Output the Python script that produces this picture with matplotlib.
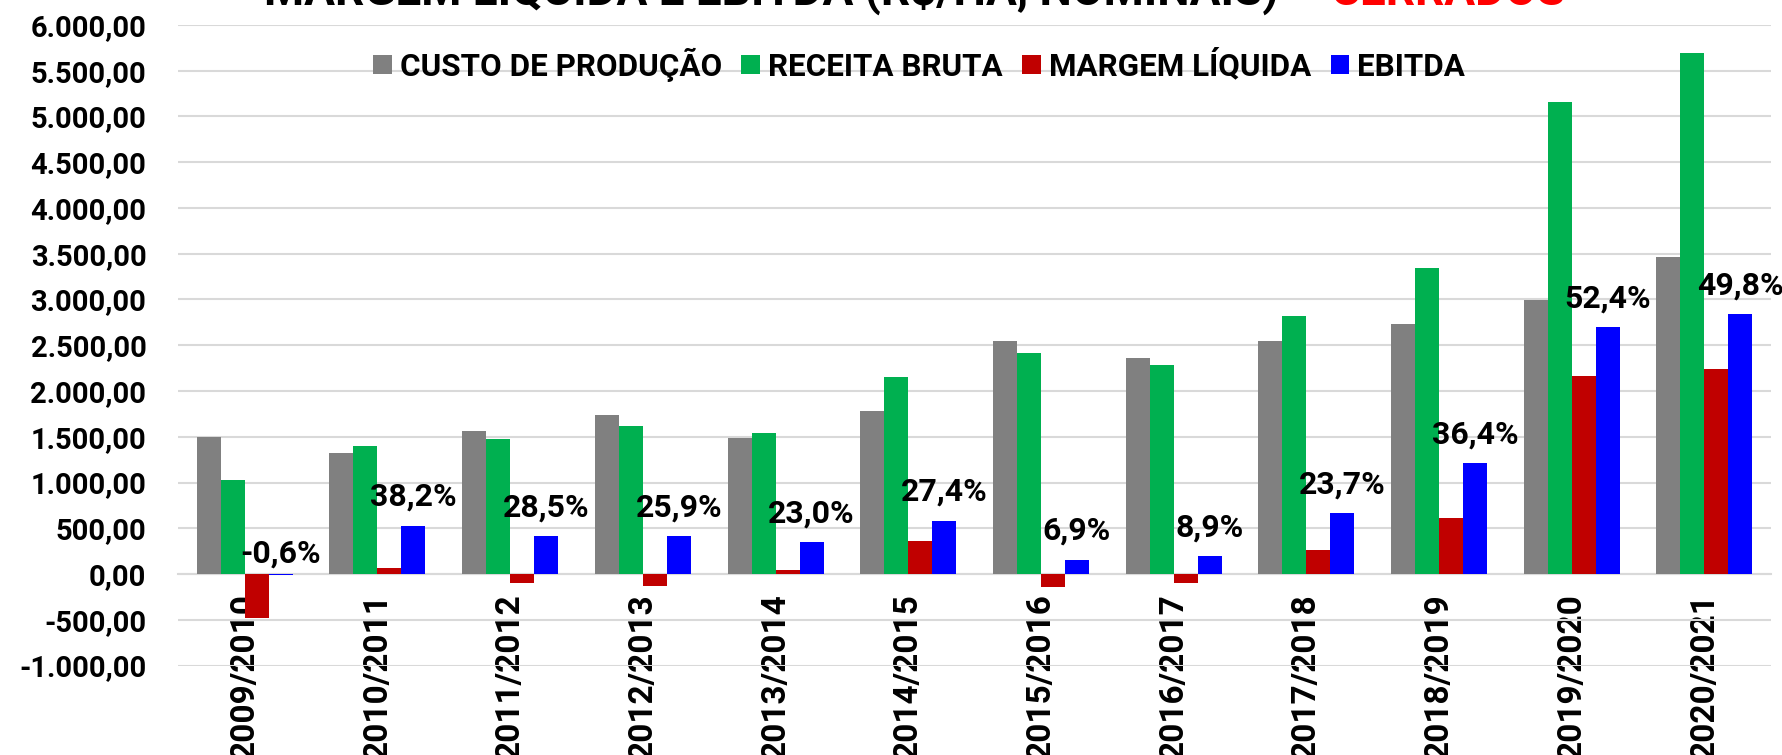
import matplotlib
matplotlib.use("Agg")
import matplotlib.pyplot as plt
from matplotlib.patches import Patch
from matplotlib.ticker import FuncFormatter, MultipleLocator
import numpy as np

plt.rcParams['font.family'] = ['Roboto', 'DejaVu Sans']
plt.rcParams['font.weight'] = 'bold'

safras = ["2009/2010", "2010/2011", "2011/2012", "2012/2013", "2013/2014", "2014/2015",
          "2015/2016", "2016/2017", "2017/2018", "2018/2019", "2019/2020", "2020/2021"]
custo = [1500, 1317, 1562, 1741, 1489, 1780, 2550, 2364, 2550, 2727, 2992, 3464]
receita = [1022, 1394, 1471, 1613, 1544, 2153, 2419, 2280, 2823, 3339, 5159, 5699]
margem = [-485, 66, -102, -135, 44, 364, -140, -98, 262, 608, 2167, 2235]
ebitda = [-6, 529, 412, 412, 347, 583, 157, 193, 665, 1212, 2698, 2839]
ebitda_pct = [-0.6, 38.2, 28.5, 25.9, 23.0, 27.4, 6.9, 8.9, 23.7, 36.4, 52.4, 49.8]

series_names = ["CUSTO DE PRODUÇÃO", "RECEITA BRUTA", "MARGEM LÍQUIDA", "EBITDA"]
colors = ["#808080", "#00B050", "#C00000", "#0000FF"]

W, H, DPI = 1783, 755, 100
fig = plt.figure(figsize=(W / DPI, H / DPI), dpi=DPI)
left_px, right_px = 178.4, 1770.8
top_px, bot_px = 25.0, 665.5
ax = fig.add_axes([left_px / W, 1 - bot_px / H, (right_px - left_px) / W, (bot_px - top_px) / H])

x = np.arange(len(safras))
bw = 0.181
data = [custo, receita, margem, ebitda]
for i, (vals, col) in enumerate(zip(data, colors)):
    ax.bar(x + (i - 1.5) * bw, vals, width=bw, color=col, zorder=2, linewidth=0)

ax.set_xlim(-0.5, len(safras) - 0.5)
ax.set_ylim(-1000, 6000)
ax.yaxis.set_major_locator(MultipleLocator(500))

def fmt(v, pos):
    s = f"{v:,.2f}"
    return s.replace(",", "X").replace(".", ",").replace("X", ".")

ax.yaxis.set_major_formatter(FuncFormatter(fmt))
ax.grid(axis='y', color='#d9d9d9', linewidth=1.5, zorder=0)
ax.set_axisbelow(True)
for s in ['left', 'right', 'top']:
    ax.spines[s].set_visible(False)
ax.spines['bottom'].set_position(('data', 0))
ax.spines['bottom'].set_color('#d9d9d9')
ax.spines['bottom'].set_linewidth(1.5)
ax.spines['bottom'].set_zorder(1)

ax.set_xticks(x)
ax.set_xticklabels(safras, rotation=90, fontsize=24, fontweight='bold')
ax.tick_params(axis='x', length=0, pad=14)
ax.tick_params(axis='y', length=0, pad=23, labelsize=21)
for t in ax.get_yticklabels():
    t.set_fontweight('bold')

for xi, v, p in zip(x, ebitda, ebitda_pct):
    lab = f"{p:.1f}%".replace(".", ",")
    off = 14.4 if v >= 0 else 7.9
    ax.annotate(lab, (xi + 1.5 * bw, max(v, 0)), xytext=(0, off), textcoords='offset points',
                ha='center', va='baseline', fontsize=23, fontweight='bold', color='black', zorder=5)

handles = [Patch(facecolor=c, edgecolor='none') for c in colors]
fig.legend(handles, series_names, loc='center left', bbox_to_anchor=(373 / W, 1 - 64.5 / H),
           bbox_transform=fig.transFigure, ncol=4, frameon=False,
           prop={'weight': 'bold', 'size': 22.6}, handlelength=0.6, handleheight=0.6,
           handletextpad=0.25, columnspacing=0.62, borderpad=0, borderaxespad=0)

title_y = 1 - 5 / H
split_x = 1330 / W
fig.text(split_x, title_y, "MARGEM LÍQUIDA E EBITDA (R$/HA, NOMINAIS) – ", ha='right', va='baseline',
         fontsize=33, fontweight='bold', color='black')
fig.text(split_x, title_y, "CERRADOS", ha='left', va='baseline',
         fontsize=33, fontweight='bold', color='#FF0000')

fig.savefig("out.png", dpi=DPI)
